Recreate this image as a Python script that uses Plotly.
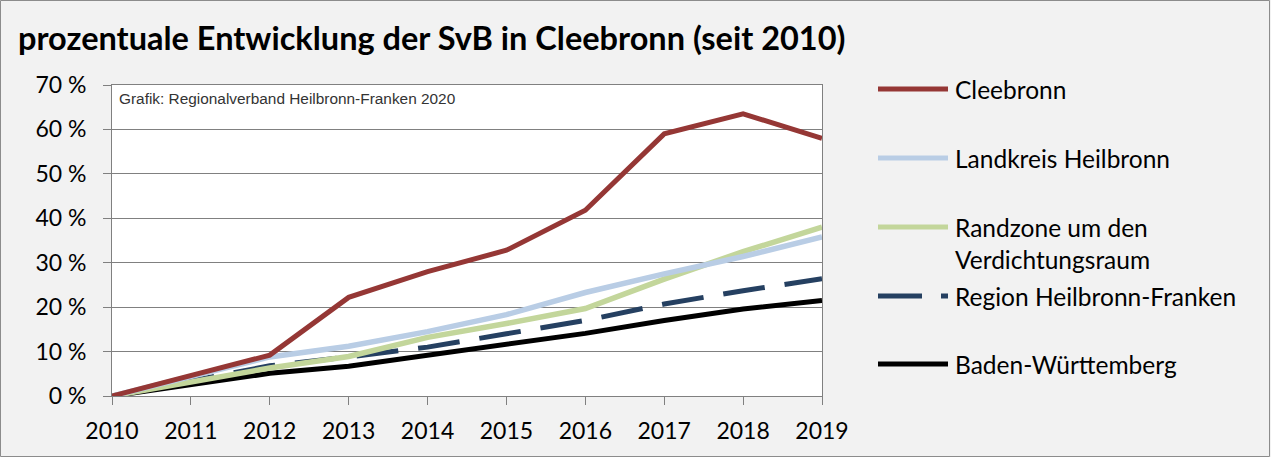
import plotly.graph_objects as go

years = [2010, 2011, 2012, 2013, 2014, 2015, 2016, 2017, 2018, 2019]
cleebronn = [0, 4.6, 9.2, 22.2, 28.0, 32.8, 41.8, 59.0, 63.5, 58.0]
landkreis = [0, 4.3, 8.8, 11.2, 14.5, 18.3, 23.3, 27.5, 31.4, 35.8]
randzone = [0, 3.1, 6.3, 8.9, 13.2, 16.3, 19.7, 26.3, 32.5, 38.0]
region = [0, 3.4, 6.8, 8.8, 11.0, 14.0, 17.0, 20.7, 23.7, 26.4]
bawue = [0, 2.5, 5.1, 6.7, 9.2, 11.6, 14.1, 17.0, 19.6, 21.5]

names = ["Cleebronn", "Landkreis Heilbronn", "Randzone um den<br>Verdichtungsraum",
         "Region Heilbronn-Franken", "Baden-Württemberg"]
series = [cleebronn, landkreis, randzone, region, bawue]
colors = ["#953735", "#b9cde5", "#c3d69b", "#254061", "#000000"]
widths = [5, 5.5, 5.5, 5, 5]
dashes = ["solid", "solid", "solid", "dash", "solid"]

FONT = "Lato"

fig = go.Figure()
order = [4, 3, 2, 1, 0]
for i in order:
    fig.add_trace(go.Scatter(
        x=years, y=series[i], mode="lines", name=names[i].replace("<br>", " "),
        line=dict(color=colors[i], width=widths[i], dash="solid" if dashes[i] == "solid" else "42px,20px"),
        showlegend=False, hoverinfo="x+y+name"))

W, H = 1271, 457
L, R, T, B = 112, 822, 85, 396
pw, ph = R - L, B - T

def px(x):
    return (x - L) / pw

def py(y):
    return (B - y) / ph

shapes = []
annotations = []
shapes.append(dict(type="rect", xref="paper", yref="paper",
                   x0=px(0.5), x1=px(W - 1.5), y0=py(H - 0.5), y1=py(0.5),
                   line=dict(color="#8c8c8c", width=1), fillcolor="rgba(0,0,0,0)", layer="below"))

leg_y = [89, 158, 227, 296, 364]
for i in range(5):
    y = py(leg_y[i])
    if dashes[i] == "solid":
        shapes.append(dict(type="line", xref="paper", yref="paper", x0=px(878), x1=px(948), y0=y, y1=y,
                           line=dict(color=colors[i], width=5)))
    else:
        shapes.append(dict(type="line", xref="paper", yref="paper", x0=px(878), x1=px(922), y0=y, y1=y,
                           line=dict(color=colors[i], width=5)))
        shapes.append(dict(type="line", xref="paper", yref="paper", x0=px(941), x1=px(948), y0=y, y1=y,
                           line=dict(color=colors[i], width=5)))
    ty = py(243) if i == 2 else y
    annotations.append(dict(xref="paper", yref="paper", x=px(953), y=ty, xanchor="left",
                            yanchor="middle", text=names[i], showarrow=False, align="left",
                            font=dict(family=FONT, size=24.5, color="#000000")))

annotations.append(dict(xref="paper", yref="paper", x=px(117), y=py(98), xanchor="left", yanchor="middle",
                        text="Grafik: Regionalverband Heilbronn-Franken 2020", showarrow=False,
                        font=dict(family="Liberation Sans", size=15.4, color="#333333")))

fig.update_layout(
    width=W, height=H, autosize=False,
    margin=dict(l=L, r=W - R, t=T, b=H - B, pad=0, autoexpand=False),
    paper_bgcolor="#f2f2f2", plot_bgcolor="#ffffff",
    title=dict(text="<b>prozentuale Entwicklung der SvB in Cleebronn (seit 2010)</b>",
               x=18 / W, xanchor="left", y=1 - 39 / H, yanchor="middle",
               font=dict(family=FONT, size=32.5, color="#000000")),
    shapes=shapes, annotations=annotations,
    font=dict(family=FONT, color="#000000"),
)
fig.update_xaxes(range=[2010, 2019], tickvals=years, ticktext=[str(y) for y in years],
                 showgrid=False, showline=True, linecolor="#808080", linewidth=1,
                 ticks="outside", ticklen=8, tickcolor="#808080", ticklabelstandoff=6,
                 tickfont=dict(family=FONT, size=23), mirror=True, zeroline=False, automargin=False)
fig.update_yaxes(range=[0, 70], tickvals=list(range(0, 71, 10)),
                 ticktext=[f"{v} %" for v in range(0, 71, 10)],
                 showgrid=True, gridcolor="#808080", gridwidth=1,
                 showline=True, linecolor="#808080", linewidth=1, mirror=True,
                 ticks="outside", ticklen=8, tickcolor="#808080", ticklabelstandoff=12,
                 tickfont=dict(family=FONT, size=23), zeroline=False, automargin=False)

fig.write_html("out.html", config={"displayModeBar": False},
               post_script="document.body.style.margin='0';document.body.style.overflow='hidden';")
